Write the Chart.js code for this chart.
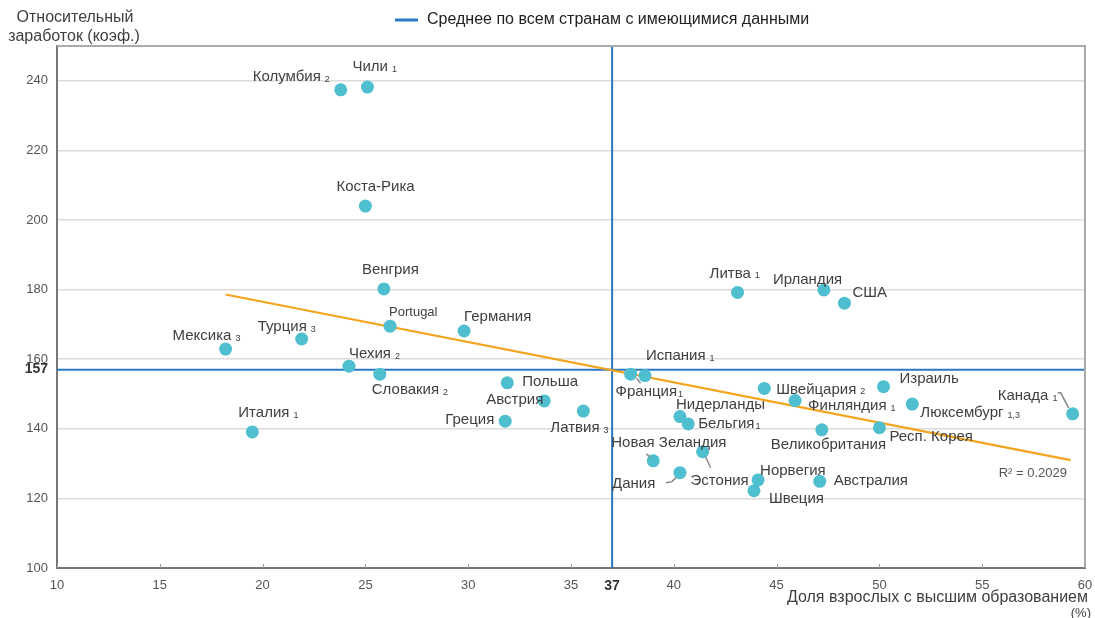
<!DOCTYPE html>
<html>
<head>
<meta charset="utf-8">
<script src="https://cdn.jsdelivr.net/npm/chart.js@4.4.0/dist/chart.umd.min.js"></script>
<style>
    body { margin: 0; background: #fff; }
    #wrap { width: 1095px; height: 618px; }
</style>
</head>
<body>
<div id="wrap"><canvas id="eduChart" width="1095" height="618"></canvas></div>
<script>
// Data
const countries = ['Колумбия', 'Чили', 'Коста-Рика', 'Венгрия', 'Portugal', 'Германия', 'Мексика', 'Турция',
    'Чехия', 'Словакия', 'Италия', 'Польша', 'Австрия', 'Греция', 'Латвия', 'Франция', 'Испания',
    'Литва', 'Ирландия', 'США', 'Швейцария', 'Израиль', 'Финляндия', 'Люксембург', 'Канада',
    'Нидерланды', 'Бельгия', 'Великобритания', 'Респ. Корея', 'Новая Зеландия', 'Эстония', 'Дания',
    'Норвегия', 'Швеция', 'Австралия'];
const footnotes = ['2', '1', '', '', '', '', '3', '3',
    '2', '2', '1', '', '', '', '3', '1', '1',
    '1', '', '', '2', '', '1', '1,3', '1',
    '', '1', '', '', '', '', '',
    '', '', ''];
const eduShare = [23.8, 25.1, 25.0, 25.9, 26.2, 29.8, 18.2, 21.9,
    24.2, 25.7, 19.5, 31.9, 33.7, 31.8, 35.6, 37.9, 38.6,
    43.1, 47.3, 48.3, 44.4, 50.2, 45.9, 51.6, 59.4,
    40.3, 40.7, 47.2, 50.0, 39.0, 41.4, 40.3,
    44.1, 43.9, 47.1];
const relEarnings = [237.4, 238.2, 204.0, 180.2, 169.5, 168.1, 162.9, 165.8,
    158.0, 155.7, 139.1, 153.2, 148.0, 142.2, 145.1, 155.7, 155.3,
    179.2, 179.9, 176.1, 151.6, 152.1, 148.1, 147.1, 144.3,
    143.5, 141.4, 139.7, 140.3, 130.8, 133.4, 127.4,
    125.3, 122.2, 124.9];

const trendX = [18.2, 59.3];
const trendY = [178.6, 131.0];
const meanX = 37;
const meanY = 157;
const xTickValues = [10, 15, 20, 25, 30, 35, 40, 45, 50, 55, 60];
const yTickValues = [100, 120, 140, 160, 180, 200, 220, 240];
const meanLabel = 'Среднее по всем странам с имеющимися данными';
const rSquared = 'R² = 0.2029';

// Label placement: offset of text left/middle from the dot, optional leader line
const labelLayout = {
    'Колумбия': [-88, -13], 'Чили': [-15, -20], 'Коста-Рика': [-29, -19], 'Венгрия': [-22, -19],
    'Portugal': [-1, -14], 'Германия': [0, -14], 'Мексика': [-53, -13], 'Турция': [-44, -12],
    'Чехия': [0, -12], 'Словакия': [-8, 16], 'Италия': [-14, -19], 'Польша': [15, -1],
    'Австрия': [-58, -1], 'Греция': [-60, -1], 'Латвия': [-33, 17], 'Франция': [-15, 18],
    'Испания': [1, -20], 'Литва': [-28, -19], 'Ирландия': [-51, -10], 'США': [8, -10],
    'Швейцария': [12, 1], 'Израиль': [16, -8], 'Финляндия': [13, 5], 'Люксембург': [8, 9],
    'Канада': [-75, -18], 'Нидерланды': [-4, -12], 'Бельгия': [10, 0], 'Великобритания': [-51, 15],
    'Респ. Корея': [10, 9], 'Новая Зеландия': [-42, -18], 'Эстония': [-12, 29], 'Дания': [-68, 11],
    'Норвегия': [2, -9], 'Швеция': [15, 8], 'Австралия': [14, 0]
};
const leaders = {
    'Франция': [[6, 4], [10, 9]],
    'Новая Зеландия': [[-7, -7], [-3, -4]],
    'Эстония': [[3, 5], [8, 16]],
    'Дания': [[-14, 10], [-8, 9], [-4, 5]],
    'Канада': [[-15, -21], [-12, -21], [-4, -6]]
};

const FONT = "'Liberation Sans', Arial, sans-serif";
const TEXT = '#404040';

const pointData = countries.map((c, i) => ({ x: eduShare[i], y: relEarnings[i] }));

const decorPlugin = {
    id: 'decor',
    afterDraw(chart) {
        const ctx = chart.ctx;
        const area = chart.chartArea;
        const xs = chart.scales.x;
        ctx.save();

        // top and right frame
        ctx.strokeStyle = '#aaa';
        ctx.lineWidth = 2;
        ctx.beginPath();
        ctx.moveTo(area.left, area.top);
        ctx.lineTo(area.right, area.top);
        ctx.lineTo(area.right, area.bottom);
        ctx.stroke();

        // small inner ticks on the x axis
        ctx.strokeStyle = '#999';
        ctx.lineWidth = 1;
        xTickValues.forEach(v => {
            const px = Math.round(xs.getPixelForValue(v)) + 0.5;
            ctx.beginPath();
            ctx.moveTo(px, area.bottom);
            ctx.lineTo(px, area.bottom - 4);
            ctx.stroke();
        });

        // legend
        ctx.strokeStyle = '#2a78c2';
        ctx.lineWidth = 3;
        ctx.beginPath();
        ctx.moveTo(395, 20);
        ctx.lineTo(418, 20);
        ctx.stroke();
        ctx.fillStyle = '#222';
        ctx.font = '16px ' + FONT;
        ctx.textBaseline = 'middle';
        ctx.textAlign = 'left';
        ctx.fillText(meanLabel, 427, 20);

        // axis titles
        ctx.fillStyle = TEXT;
        ctx.textAlign = 'center';
        ctx.fillText('Относительный', 75, 18);
        ctx.fillText('заработок (коэф.)', 74, 37);
        ctx.textAlign = 'right';
        ctx.fillText('Доля взрослых с высшим образованием', 1088, 598);
        ctx.font = '13px ' + FONT;
        ctx.fillText('(%)', 1091, 613);

        // R squared
        ctx.fillStyle = '#555';
        ctx.font = '13px ' + FONT;
        ctx.fillText(rSquared, 1067, 473);

        // leader lines and country labels
        const meta = chart.getDatasetMeta(0);
        ctx.strokeStyle = '#888';
        ctx.lineWidth = 1.5;
        countries.forEach((name, i) => {
            const pt = meta.data[i];
            const lead = leaders[name];
            if (lead) {
                ctx.beginPath();
                lead.forEach((p, k) => {
                    if (k === 0) ctx.moveTo(pt.x + p[0], pt.y + p[1]);
                    else ctx.lineTo(pt.x + p[0], pt.y + p[1]);
                });
                ctx.stroke();
            }
            const off = labelLayout[name] || [8, 0];
            const lx = pt.x + off[0];
            const ly = pt.y + off[1];
            ctx.fillStyle = TEXT;
            ctx.textAlign = 'left';
            ctx.textBaseline = 'middle';
            ctx.font = (name === 'Portugal' ? '13px ' : '15px ') + FONT;
            ctx.fillText(name, lx, ly);
            if (footnotes[i]) {
                const w = ctx.measureText(name).width;
                ctx.font = '9px ' + FONT;
                ctx.textBaseline = 'alphabetic';
                const gap = (name === 'Франция' || name === 'Бельгия') ? 1 : 4;
                ctx.fillText(footnotes[i], lx + w + gap, ly + 5);
            }
        });
        ctx.restore();
    }
};

const ctx = document.getElementById('eduChart').getContext('2d');
const eduChart = new Chart(ctx, {
    type: 'scatter',
    data: {
        datasets: [{
            label: 'Страны',
            data: pointData,
            backgroundColor: '#4fbfcf',
            borderWidth: 0,
            pointRadius: 6.5,
            pointHoverRadius: 6.5,
            order: 0
        }, {
            label: 'Тренд',
            type: 'line',
            data: trendX.map((x, i) => ({ x: x, y: trendY[i] })),
            borderColor: '#f5a31a',
            borderWidth: 2.2,
            pointRadius: 0,
            fill: false,
            order: 1
        }, {
            label: meanLabel,
            type: 'line',
            data: [{ x: meanX, y: 100 }, { x: meanX, y: 250 }],
            borderColor: '#2a78c2',
            borderWidth: 2,
            pointRadius: 0,
            fill: false,
            order: 2
        }, {
            label: meanLabel + ' (y)',
            type: 'line',
            data: [{ x: 10, y: meanY }, { x: 60, y: meanY }],
            borderColor: '#2a78c2',
            borderWidth: 2,
            pointRadius: 0,
            fill: false,
            order: 2
        }]
    },
    options: {
        responsive: false,
        animation: false,
        events: [],
        layout: { padding: { top: 46, right: 10, left: 0, bottom: 0 } },
        plugins: {
            legend: { display: false },
            tooltip: { enabled: false }
        },
        scales: {
            x: {
                type: 'linear',
                min: 10,
                max: 60,
                afterBuildTicks: scale => {
                    scale.ticks = xTickValues.concat([meanX]).map(v => ({ value: v }));
                },
                afterFit: scale => { scale.height = 50; },
                border: { color: '#777', width: 2 },
                grid: { drawOnChartArea: false, drawTicks: false },
                ticks: {
                    padding: 10,
                    autoSkip: false,
                    maxRotation: 0,
                    color: ctx => (ctx.tick && ctx.tick.value === meanX) ? '#333' : '#555',
                    font: ctx => (ctx.tick && ctx.tick.value === meanX)
                        ? { family: FONT, size: 14, weight: 'bold' }
                        : { family: FONT, size: 13 }
                }
            },
            y: {
                type: 'linear',
                min: 100,
                max: 250,
                afterBuildTicks: scale => {
                    scale.ticks = yTickValues.concat([meanY]).map(v => ({ value: v }));
                },
                afterFit: scale => { scale.width = 57; },
                border: { color: '#777', width: 2 },
                grid: {
                    drawTicks: false,
                    lineWidth: 1.5,
                    color: ctx => (ctx.tick && (ctx.tick.value === meanY || ctx.tick.value === 100)) ? 'rgba(0,0,0,0)' : '#dcdcdc'
                },
                ticks: {
                    padding: 9,
                    autoSkip: false,
                    color: ctx => (ctx.tick && ctx.tick.value === meanY) ? '#333' : '#555',
                    font: ctx => (ctx.tick && ctx.tick.value === meanY)
                        ? { family: FONT, size: 14, weight: 'bold' }
                        : { family: FONT, size: 13 }
                }
            }
        }
    },
    plugins: [decorPlugin]
});
</script>
</body>
</html>
